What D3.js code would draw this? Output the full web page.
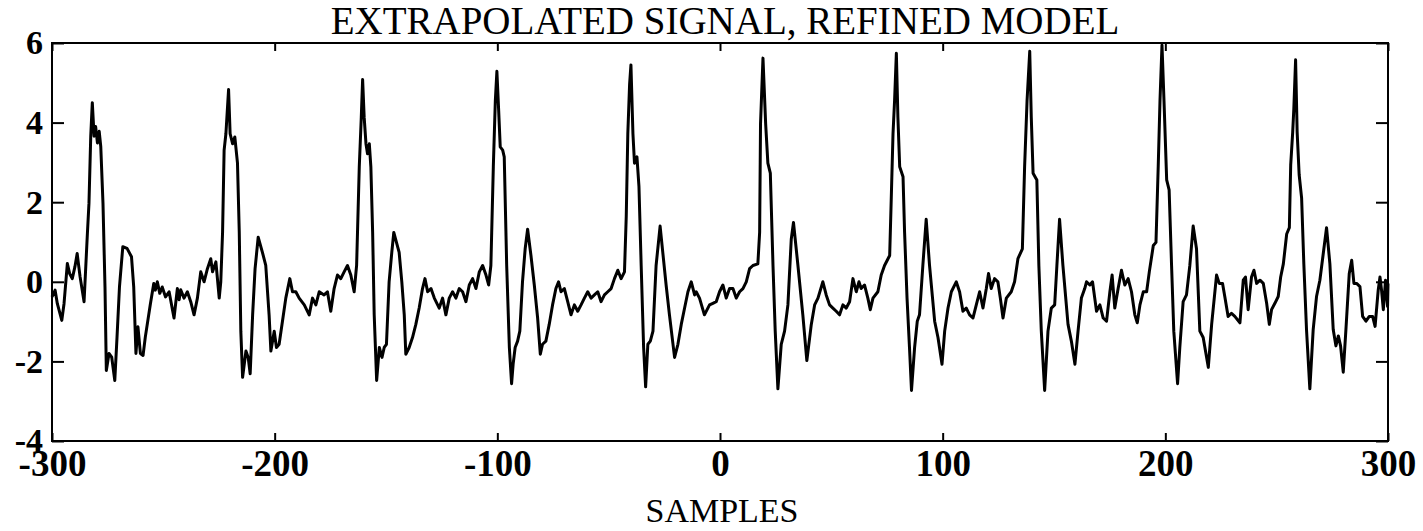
<!DOCTYPE html>
<html>
<head>
<meta charset="utf-8">
<script src="https://cdn.jsdelivr.net/npm/d3@7"></script>
<style>
  body { margin: 0; background: #fff; }
  svg { display: block; }
</style>
</head>
<body>
<svg id="chart"></svg>
<script>
const titleText = "EXTRAPOLATED SIGNAL, REFINED MODEL";
const xLabelText = "SAMPLES";
const xTickValues = [-300, -200, -100, 0, 100, 200, 300];
const yTickValues = [-4, -2, 0, 2, 4, 6];

// [sample, amplitude], one row per beat
const trace = [
  [-300, -0.38], [-298.6, -0.21], [-297.6, -0.55], [-295.6, -0.97], [-294.6, -0.55], [-293.1, 0.46], [-292.1, 0.21], [-290.9, 0.08], [-289.7, 0.38], [-288.7, 0.71], [-287.4, 0.13], [-285.6, -0.5], [-284.1, 1.22], [-283.4, 1.97], [-282.6, 3.66], [-281.9, 4.5], [-281.1, 3.66], [-280.4, 3.9], [-279.6, 3.49], [-278.8, 3.78], [-278.1, 3.4], [-277.1, 1.97], [-276.2, -0.13], [-275.6, -2.23], [-274.4, -1.8], [-273.2, -1.89], [-271.8, -2.48], [-270.8, -1.39], [-269.7, -0.13], [-268.2, 0.88], [-266.3, 0.84], [-264.3, 0.63], [-263.3, -0.13], [-262.3, -1.8], [-261.4, -1.13], [-260.3, -1.8], [-259.1, -1.85], [-258.1, -1.39], [-255.8, -0.55], [-254.3, -0.04], [-253.6, -0.21], [-252.7, 0], [-251.6, -0.29], [-250.5, -0.13], [-249.0, -0.38],
  [-247.4, -0.25], [-245.2, -0.91], [-243.7, -0.17], [-242.9, -0.45], [-242.2, -0.2], [-240.7, -0.41], [-239.2, -0.25], [-237.7, -0.5], [-236.2, -0.83], [-234.7, -0.41], [-233.2, 0.25], [-231.7, 0], [-230.2, 0.33], [-228.7, 0.58], [-227.9, 0.25], [-226.4, 0.5], [-224.9, -0.41], [-224.2, 0], [-223.4, 1.24], [-222.7, 3.31], [-221.9, 3.72], [-220.7, 4.83], [-220.0, 3.72], [-218.9, 3.47], [-217.9, 3.64], [-216.7, 2.98], [-215.9, 1.24], [-215.2, -1.24], [-214.4, -2.4], [-212.9, -1.74], [-211.9, -1.9], [-211.0, -2.31], [-209.9, -0.83], [-208.8, 0.33], [-207.4, 1.12], [-205.5, 0.74], [-204.0, 0.41], [-202.5, -0.83], [-201.7, -1.74], [-200.2, -1.24], [-199.2, -1.65], [-198.0, -1.57], [-196.5, -0.99], [-195.0, -0.41], [-193.2, 0.08], [-192.0, -0.25], [-190.5, -0.25], [-189.0, -0.41], [-186.7, -0.58], [-184.5, -0.83],
  [-183.0, -0.41], [-181.5, -0.58], [-180.0, -0.25], [-177.8, -0.33], [-176.3, -0.25], [-174.8, -0.74], [-173.3, -0.17], [-171.8, 0.17], [-170.3, 0.08], [-168.8, 0.25], [-167.3, 0.41], [-165.8, 0.17], [-164.3, -0.25], [-163.2, 0.41], [-162.0, 2.89], [-161.1, 4.13], [-160.5, 5.08], [-159.8, 4.13], [-159.0, 3.47], [-158.3, 3.22], [-157.5, 3.47], [-156.8, 2.89], [-156.0, 1.24], [-155.3, -0.83], [-154.2, -2.48], [-153.0, -1.65], [-151.8, -1.9], [-150.8, -1.65], [-149.8, -1.57], [-148.6, 0], [-147.4, 0.74], [-146.5, 1.24], [-145.3, 0.99], [-144.1, 0.74], [-142.9, 0], [-141.8, -0.83], [-141.1, -1.82], [-139.6, -1.65], [-138.1, -1.4], [-136.6, -1.07], [-135.1, -0.66], [-133.6, -0.17], [-132.5, 0.08], [-131.3, -0.25], [-129.8, -0.17], [-128.3, -0.41],
  [-126.1, -0.66], [-124.6, -0.41], [-123.1, -0.83], [-121.6, -0.41], [-120.1, -0.25], [-118.6, -0.41], [-117.1, -0.17], [-115.6, -0.25], [-114.1, -0.5], [-112.6, -0.08], [-111.1, 0.08], [-109.6, -0.17], [-108.1, 0.25], [-106.6, 0.41], [-105.1, 0.17], [-103.9, -0.08], [-102.9, 0.41], [-101.8, 2.89], [-100.9, 4.55], [-100.2, 5.29], [-99.4, 4.3], [-98.7, 3.39], [-97.6, 3.31], [-96.9, 3.14], [-95.8, 0.41], [-94.6, -1.65], [-93.6, -2.56], [-92.9, -2.07], [-92.0, -1.65], [-90.9, -1.49], [-89.9, -1.24], [-88.7, 0], [-87.5, 0.83], [-86.4, 1.32], [-84.9, 0.66], [-83.4, -0.08], [-81.9, -0.91], [-80.7, -1.82], [-79.7, -1.57], [-78.2, -1.49], [-76.7, -1.07], [-75.2, -0.58], [-73.7, -0.17], [-72.5, 0], [-71.4, -0.25], [-69.9, -0.17],
  [-68.4, -0.5], [-66.9, -0.83], [-65.4, -0.58], [-63.9, -0.74], [-62.4, -0.58], [-60.9, -0.41], [-59.4, -0.25], [-57.9, -0.41], [-56.4, -0.33], [-54.9, -0.25], [-53.4, -0.5], [-51.9, -0.33], [-50.4, -0.25], [-48.9, -0.17], [-47.4, 0.08], [-45.9, 0.29], [-44.4, 0.08], [-42.9, 0.25], [-42.1, 1.65], [-41.4, 3.72], [-40.6, 4.96], [-40.0, 5.45], [-39.1, 3.72], [-38.4, 2.98], [-37.3, 3.14], [-36.4, 2.4], [-35.4, 0.41], [-34.3, -1.65], [-33.4, -2.64], [-32.4, -1.57], [-31.3, -1.49], [-30.1, -1.24], [-28.7, 0.41], [-26.9, 1.4], [-25.7, 0.74], [-24.2, -0.08], [-22.7, -0.83], [-20.4, -1.9], [-18.9, -1.57], [-17.4, -1.07], [-15.9, -0.66], [-14.4, -0.25], [-12.9, 0], [-11.4, -0.33],
  [-10.7, -0.25], [-9.2, -0.41], [-7.0, -0.83], [-4.7, -0.58], [-3.2, -0.54], [-1.7, -0.5], [-0.2, -0.25], [1.3, -0.08], [2.8, -0.41], [4.3, -0.17], [5.8, -0.17], [7.3, -0.41], [8.8, -0.25], [10.3, -0.17], [11.8, 0], [13.3, 0.33], [14.8, 0.41], [17.0, 0.45], [17.8, 1.24], [18.2, 3.97], [19.3, 5.62], [20.5, 3.97], [21.5, 2.98], [22.6, 2.73], [23.8, 0.41], [24.8, -1.24], [26.0, -2.69], [27.5, -1.57], [29.0, -1.24], [30.5, -0.58], [32.0, 1.07], [33.0, 1.49], [35.0, 0.41], [37.2, -0.83], [39.0, -1.98], [41.0, -1.07], [42.5, -0.58], [44.0, -0.41], [46.2, 0], [47.7, -0.33],
  [49.2, -0.58], [50.7, -0.66], [52.2, -0.74], [53.7, -0.83], [55.2, -0.58], [56.7, -0.66], [58.2, -0.5], [59.7, 0.08], [61.2, -0.25], [62.4, 0], [63.4, -0.17], [64.9, -0.08], [66.4, -0.41], [67.5, -0.7], [68.7, -0.41], [70.9, -0.25], [72.4, 0.17], [73.9, 0.41], [76.2, 0.66], [76.9, 2.07], [77.7, 3.72], [78.4, 4.55], [79.2, 5.74], [79.9, 4.13], [80.7, 2.89], [82.2, 2.64], [82.9, 1.24], [84.0, -0.41], [85.1, -1.65], [86.0, -2.73], [87.4, -1.65], [88.6, -0.99], [89.6, -0.83], [91.1, 0.41], [92.6, 1.57], [94.1, 0.41], [96.4, -0.99], [97.9, -1.4], [99.7, -2.07], [100.9, -1.24], [102.4, -0.66], [103.9, -0.25], [106.1, 0],
  [107.6, -0.25], [109.1, -0.74], [110.6, -0.66], [112.1, -0.83], [113.6, -0.91], [115.1, -0.58], [116.6, -0.25], [118.1, -0.66], [119.6, -0.17], [120.6, 0.21], [121.8, -0.17], [123.3, 0.08], [124.8, 0], [125.9, -0.41], [127.1, -0.91], [128.6, -0.41], [130.8, -0.25], [132.3, 0], [133.8, 0.58], [135.8, 0.83], [136.8, 2.89], [137.9, 4.55], [139.1, 5.79], [139.8, 4.13], [140.6, 2.73], [142.3, 2.56], [143.2, 0.41], [144.3, -1.24], [145.8, -2.73], [147.3, -1.24], [148.8, -0.66], [150.3, -0.58], [151.3, 0.41], [152.5, 1.57], [154.0, 0.41], [156.3, -1.07], [157.8, -1.49], [159.4, -2.07], [160.8, -1.24], [162.3, -0.41], [163.8, -0.17],
  [164.6, 0], [166.1, -0.08], [167.3, 0], [168.3, -0.41], [169.1, -0.74], [170.6, -0.58], [172.1, -0.91], [173.6, -0.99], [175.1, -0.25], [176.1, 0.17], [177.3, -0.66], [178.8, -0.17], [180.3, 0.29], [181.8, -0.08], [183.3, 0.08], [184.8, -0.25], [186.3, -0.83], [187.4, -1.03], [188.6, -0.58], [190.1, -0.25], [191.6, -0.25], [192.8, 0.25], [194.6, 0.91], [195.8, 0.99], [196.8, 2.89], [197.6, 4.55], [198.5, 5.95], [199.4, 4.55], [200.6, 2.56], [201.7, 2.31], [202.8, 0.41], [203.8, -1.24], [205.5, -2.56], [206.5, -1.65], [208.0, -0.5], [209.5, -0.33], [211.0, 0.41], [212.5, 1.4], [214.0, 0.83], [215.5, -1.24], [217.0, -1.4], [219.3, -2.15], [220.8, -1.07], [223.0, 0.17],
  [224.2, -0.04], [225.7, -0.04], [226.7, -0.37], [228.2, -0.87], [229.7, -0.79], [231.2, -0.87], [233.5, -1.03], [235.0, 0.04], [236.0, 0.12], [237.2, -0.7], [238.7, 0.12], [239.8, 0.29], [241.0, -0.04], [242.5, 0.04], [244.0, -0.04], [245.5, -0.54], [246.7, -1.07], [247.7, -0.7], [249.2, -0.54], [250.7, -0.37], [251.8, 0.12], [253.0, 0.45], [254.5, 1.2], [255.7, 1.36], [256.3, 2.93], [257.2, 3.76], [257.7, 4.34], [258.5, 5.58], [259.2, 3.76], [260.1, 2.69], [261.2, 2.11], [262.2, 0.45], [263.4, -1.2], [264.9, -2.69], [266.4, -1.2], [267.9, -0.37], [269.4, 0.04], [270.9, 0.7], [272.4, 1.36], [273.9, 0.45], [275.4, -1.2], [276.6, -1.61], [277.7, -1.36], [278.7, -1.61], [279.9, -2.27], [281.1, -1.2], [282.6, 0.21], [283.7, 0.54], [284.7, -0.04], [285.9, -0.04], [287.4, -0.12], [288.6, -0.87], [290.1, -0.99], [291.6, -0.87], [293.1, -0.87], [294.2, -1.12], [295.6, -0.21], [296.4, 0.12], [297.1, -0.21], [297.9, -0.7], [298.9, 0.04], [299.8, -0.62], [300, -0.04]
];

var width = 1423, height = 531;
var margin = { top: 43, right: 35, bottom: 90, left: 52 };
var serif = "'Liberation Serif', 'Times New Roman', Times, serif";

var svg = d3.select("#chart")
    .attr("width", width)
    .attr("height", height)
    .style("background", "#fff");

var x = d3.scaleLinear().domain([-300, 300]).range([margin.left, width - margin.right]);
var y = d3.scaleLinear().domain([-4, 6]).range([height - margin.bottom, margin.top]);

// signal
svg.append("path")
    .datum(trace)
    .attr("fill", "none")
    .attr("stroke", "#000")
    .attr("stroke-width", 3)
    .attr("stroke-linejoin", "round")
    .attr("d", d3.line().x(d => x(d[0])).y(d => y(d[1])));

// axes, ticks pointing inwards
function styleAxis(g, fontSize) {
    g.select(".domain").remove();
    g.selectAll(".tick line").attr("stroke", "#000").attr("stroke-width", 2);
    g.selectAll(".tick text")
        .attr("fill", "#000")
        .style("font-family", serif)
        .style("font-size", fontSize + "px")
        .style("font-weight", "bold")
        .style("display", fontSize ? null : "none");
}

svg.append("g")
    .attr("transform", "translate(0," + y(-4) + ")")
    .call(d3.axisBottom(x).tickValues(xTickValues).tickSizeInner(-8).tickSizeOuter(0).tickPadding(9).tickFormat(d => String(d)))
    .call(g => styleAxis(g, 37));

svg.append("g")
    .attr("transform", "translate(0," + y(6) + ")")
    .call(d3.axisTop(x).tickValues(xTickValues).tickSizeInner(-8).tickSizeOuter(0))
    .call(g => styleAxis(g, 0));

svg.append("g")
    .attr("transform", "translate(" + x(-300) + ",0)")
    .call(d3.axisLeft(y).tickValues(yTickValues).tickSizeInner(-12).tickSizeOuter(0).tickPadding(9).tickFormat(d => String(d)))
    .call(g => styleAxis(g, 34));

svg.append("g")
    .attr("transform", "translate(" + x(300) + ",0)")
    .call(d3.axisRight(y).tickValues(yTickValues).tickSizeInner(-12).tickSizeOuter(0))
    .call(g => styleAxis(g, 0));

// frame
svg.append("rect")
    .attr("x", x(-300))
    .attr("y", y(6))
    .attr("width", x(300) - x(-300))
    .attr("height", y(-4) - y(6))
    .attr("fill", "none")
    .attr("stroke", "#000")
    .attr("stroke-width", 2);

svg.append("text")
    .attr("x", (x(-300) + x(300)) / 2 + 5)
    .attr("y", 34)
    .attr("text-anchor", "middle")
    .style("font-family", serif)
    .style("font-size", "39px")
    .text(titleText);

svg.append("text")
    .attr("x", (x(-300) + x(300)) / 2 + 2)
    .attr("y", 522)
    .attr("text-anchor", "middle")
    .style("font-family", serif)
    .style("font-size", "34px")
    .text(xLabelText);
</script>
</body>
</html>
